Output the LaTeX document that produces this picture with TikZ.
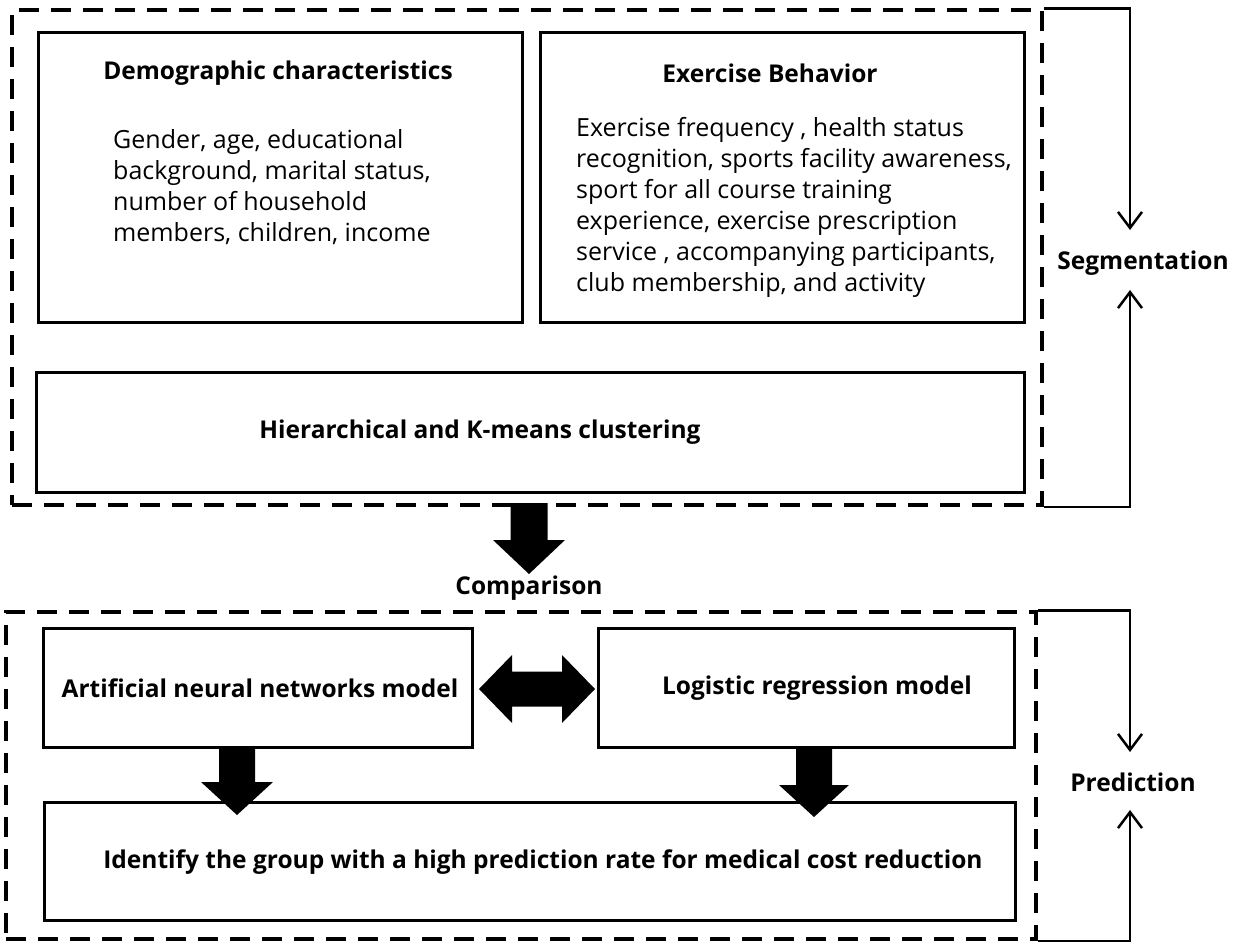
\documentclass[tikz,border=0pt]{standalone}
\usepackage{fontspec}
\setmainfont{Open Sans}
\usepackage{tikz}
\usetikzlibrary{arrows.meta}

\begin{document}
\begin{tikzpicture}[x=1pt, y=-1pt,
  box/.style={draw, line width=3pt, inner sep=0pt},
  frame/.style={draw, line width=3.5pt, dash pattern=on 20pt off 12pt, inner sep=0pt},
  txt/.style={font=\fontsize{25}{31}\selectfont, inner sep=0pt},
  ttl/.style={font=\fontsize{24.5}{31}\selectfont\bfseries, inner sep=0pt},
  flow/.style={line width=2.5pt, -{Straight Barb[length=16pt, width=24pt, line width=2.5pt]}}]
\useasboundingbox (0,0) rectangle (1235,943);

\node[frame, minimum width=1030pt, minimum height=495pt] (F1) at (527,257.5) {};
\node[box, minimum width=484pt, minimum height=290pt] (B1) at (280,177) {};
\node[box, minimum width=484pt, minimum height=290pt] (B2) at (782,177) {};
\node[box, minimum width=988pt, minimum height=120pt] (B3) at (530,432) {};

\node[ttl] (T1) at (278,73) {Demographic characteristics};
\node[txt, anchor=west, align=left] (T11) at (113,187) {Gender, age, educational\\background, marital status,\\number of household\\members, children, income};
\node[ttl] (T2) at (770,73) {Exercise Behavior};
\node[txt, anchor=west, align=left] (T21) at (576,207) {Exercise frequency , health status\\recognition, sports facility awareness,\\sport for all course training\\experience, exercise prescription\\service , accompanying participants,\\club membership, and activity};
\node[ttl] (T3) at (480,432) {Hierarchical and K-means clustering};

\node[ttl] (S) at (1143,263) {Segmentation};
\coordinate (S1) at (1130,230);
\coordinate (S2) at (1130,290);
\draw[flow] (F1.north east) -| (S1);
\draw[flow] (F1.south east) -| (S2);

\fill (510.5,503) -- (547.5,503) -- (547.5,540) -- (565,540) -- (529,574)
  -- (493,540) -- (510.5,540) -- cycle;
\node[ttl] (C) at (529,588) {Comparison};

\node[frame, minimum width=1030pt, minimum height=327pt] (F2) at (521,775.5) {};
\node[box, minimum width=429pt, minimum height=119pt] (B4) at (257.5,687.5) {};
\node[box, minimum width=416pt, minimum height=119pt] (B5) at (806,687.5) {};
\node[box, minimum width=971pt, minimum height=118pt] (B6) at (529.5,861) {};

\node[ttl] (T4) at (260,688) {Artificial neural networks model};
\node[ttl] (T5) at (817,688) {Logistic regression model};
\node[ttl] (T6) at (543,862) {Identify the group with a high prediction rate for medical cost reduction};

\fill (479,689) -- (512,655) -- (512,671.5) -- (562,671.5) -- (562,655) -- (595,689)
  -- (562,723) -- (562,706.5) -- (512,706.5) -- (512,723) -- cycle;
\fill (219,748) -- (255,748) -- (255,782) -- (273,782) -- (237,815)
  -- (201,782) -- (219,782) -- cycle;
\fill (796,748) -- (832,748) -- (832,785) -- (849,785) -- (814,817)
  -- (779,785) -- (796,785) -- cycle;

\node[ttl] (P) at (1133,782) {Prediction};
\coordinate (P1) at (1130,752);
\coordinate (P2) at (1130,810);
\draw[flow] (F2.north east) -| (P1);
\draw[flow] (F2.south east) -| (P2);
\end{tikzpicture}
\end{document}
